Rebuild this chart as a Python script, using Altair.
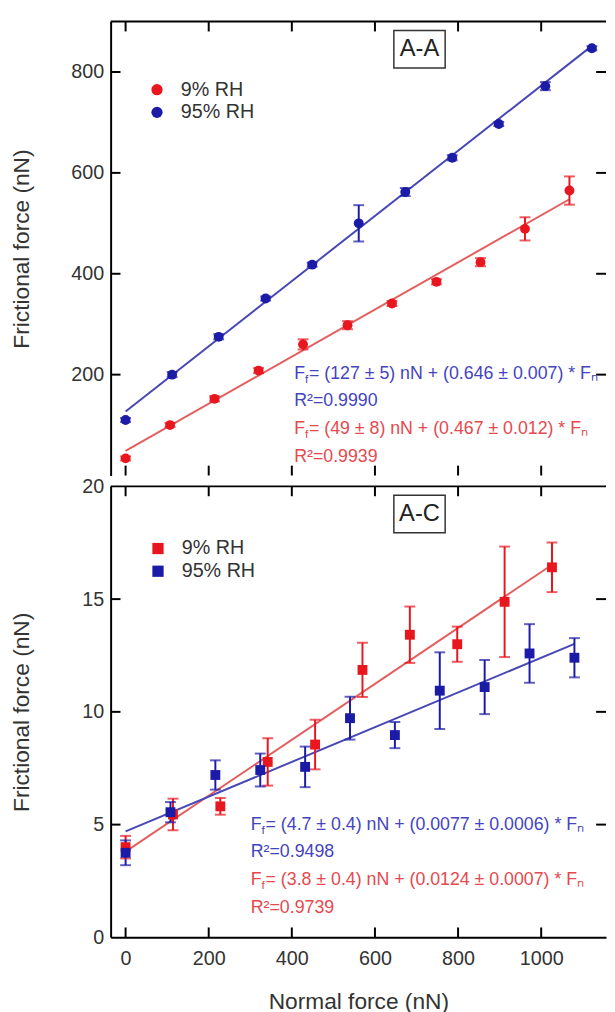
import altair as alt
import pandas as pd

SERIES = ["9% RH", "95% RH"]

# ---- Panel A-A (top) ----
aa_x_9 = [0, 107, 214, 320, 427, 534, 641, 748, 854, 961, 1068]
aa_y_9 = [34, 100, 152, 208, 260, 298, 341, 384, 423, 489, 565]
aa_e_9 = [4, 4, 5, 5, 10, 8, 5, 5, 8, 23, 28]
aa_x_95 = [0, 112, 224, 337, 449, 561, 673, 786, 898, 1010, 1122]
aa_y_95 = [110, 200, 275, 351, 418, 500, 562, 630, 697, 772, 847]
aa_e_95 = [4, 5, 5, 4, 4, 36, 8, 5, 4, 8, 4]
aa_fit_a = [49, 127]
aa_fit_b = [0.467, 0.646]
aa_eq = ["= (49 ± 8) nN + (0.467 ± 0.012) * Fₙ", "R²=0.9939",
         "= (127 ± 5) nN + (0.646 ± 0.007) * Fₙ", "R²=0.9990"]
aa_ylabels = [200, 400, 600, 800]

# ---- Panel A-C (bottom) ----
ac_x_9 = [0, 114, 228, 342, 456, 570, 684, 798, 912, 1026]
ac_y_9 = [4.0, 5.45, 5.81, 7.78, 8.55, 11.86, 13.42, 13.0, 14.88, 16.41]
ac_e_9 = [0.5, 0.7, 0.37, 1.05, 1.1, 1.2, 1.25, 0.78, 2.45, 1.1]
ac_x_95 = [0, 108, 216, 324, 432, 540, 648, 756, 864, 972, 1080]
ac_y_95 = [3.75, 5.55, 7.2, 7.42, 7.56, 9.72, 8.97, 10.94, 11.1, 12.59, 12.4]
ac_e_95 = [0.55, 0.45, 0.65, 0.73, 0.9, 0.95, 0.58, 1.7, 1.2, 1.3, 0.87]
ac_fit_a = [3.8, 4.7]
ac_fit_b = [0.0124, 0.0077]
ac_eq = ["= (3.8 ± 0.4) nN + (0.0124 ± 0.0007) * Fₙ", "R²=0.9739",
         "= (4.7 ± 0.4) nN + (0.0077 ± 0.0006) * Fₙ", "R²=0.9498"]
ac_ylabels = [0, 5, 10, 15, 20]

x_ticks = [0, 200, 400, 600, 800, 1000]

RED, BLUE = "#e8161e", "#1b1ba8"
RED_LINE, BLUE_LINE = "#e35e5e", "#4747b6"
RED_TXT, BLUE_TXT = "#e5494e", "#4444be"
FONT = "Liberation Sans"
W = 502
XDOM = [-36, 1156]


def points_df(xs9, ys9, es9, xs95, ys95, es95):
    rows = []
    for s, xs, ys, es, c in ((SERIES[0], xs9, ys9, es9, RED),
                             (SERIES[1], xs95, ys95, es95, BLUE)):
        for x, y, e in zip(xs, ys, es):
            rows.append(dict(series=s, x=x, y=y, lo=y - e, hi=y + e, col=c))
    return pd.DataFrame(rows)


def fit_df(xs9, xs95, a, b):
    rows = []
    for i, (s, xs, c) in enumerate(((SERIES[0], xs9, RED_LINE), (SERIES[1], xs95, BLUE_LINE))):
        for x in (xs[0], xs[-1]):
            rows.append(dict(series=s, x=x, y=a[i] + b[i] * x, col=c))
    return pd.DataFrame(rows)


ONE = pd.DataFrame({"k": [0]})


def txt(s, px, py, size, color, align="left", baseline="middle"):
    return alt.Chart(ONE).mark_text(text=s, fontSize=size, color=color, align=align,
                                    baseline=baseline, font=FONT).encode(
        x=alt.value(px), y=alt.value(py))


def panel(pts, fit, ydom, ylabels, yticks, H, shape, leg_xy, label, eqs, eq_xy, bottom):
    xs = alt.Scale(domain=XDOM, nice=False, zero=False)
    ys = alt.Scale(domain=ydom, nice=False, zero=False)
    if bottom:
        xaxis = alt.Axis(values=x_ticks, ticks=False, grid=False, domain=True,
                         domainColor="black", domainWidth=2, format="d",
                         labelPadding=12, labelFontSize=20, title="Normal force (nN)",
                         titleFontSize=23, titleY=72, titleBaseline="alphabetic")
    else:
        xaxis = None
    yaxis = alt.Axis(values=ylabels, ticks=False, grid=False, domain=True,
                     domainColor="black", domainWidth=2, labelPadding=7,
                     labelFontSize=20, title="Frictional force (nN)", titleFontSize=23,
                     titleX=-90, titleY=H / 2, titleAngle=270, titleBaseline="middle",
                     titleAlign="center")
    X = lambda f: alt.X(f, scale=xs, axis=xaxis)
    Y = lambda f: alt.Y(f, scale=ys, axis=yaxis)

    xt = pd.DataFrame({"x": x_ticks})
    yt = pd.DataFrame({"y": yticks})
    layers = [
        alt.Chart(ONE).mark_rule(color="black", strokeWidth=2).encode(
            x=alt.value(0), x2=alt.value(W), y=alt.value(0)),
        alt.Chart(xt).mark_rule(color="black", strokeWidth=2).encode(
            x=X("x:Q"), y=alt.value(0), y2=alt.value(10)),
        alt.Chart(xt).mark_rule(color="black", strokeWidth=2).encode(
            x=X("x:Q"), y=alt.value(H), y2=alt.value(H - 10)),
        alt.Chart(yt).mark_rule(color="black", strokeWidth=2).encode(
            y=Y("y:Q"), x=alt.value(0), x2=alt.value(10)),
        alt.Chart(yt).mark_rule(color="black", strokeWidth=2).encode(
            y=Y("y:Q"), x=alt.value(W - 10), x2=alt.value(W)),
        alt.Chart(fit).mark_line(strokeWidth=2).encode(
            x=X("x:Q"), y=Y("y:Q"), color=alt.Color("col:N", scale=None), detail="series:N"),
        alt.Chart(pts).mark_rule(strokeWidth=2).encode(
            x=X("x:Q"), y=Y("lo:Q"), y2="hi:Q", color=alt.Color("col:N", scale=None)),
        alt.Chart(pts).mark_tick(orient="horizontal", size=11, thickness=2).encode(
            x=X("x:Q"), y=Y("lo:Q"), color=alt.Color("col:N", scale=None)),
        alt.Chart(pts).mark_tick(orient="horizontal", size=11, thickness=2).encode(
            x=X("x:Q"), y=Y("hi:Q"), color=alt.Color("col:N", scale=None)),
        alt.Chart(pts).mark_point(filled=True, shape=shape, size=100, opacity=1,
                                  fillOpacity=1).encode(
            x=X("x:Q"), y=Y("y:Q"),
            color=alt.Color("series:N",
                            scale=alt.Scale(domain=SERIES, range=[RED, BLUE]),
                            legend=alt.Legend(orient="none", legendX=leg_xy[0],
                                              legendY=leg_xy[1], title=None,
                                              symbolType=shape, symbolSize=130,
                                              symbolOpacity=1,
                                              labelFontSize=20, labelFont=FONT,
                                              labelColor="#333333", labelOffset=14,
                                              rowPadding=3, padding=0,
                                              symbolStrokeWidth=0))),
        # panel label box
        alt.Chart(ONE).mark_rect(fill="white", stroke="#333333", strokeWidth=1.5).encode(
            x=alt.value(287), x2=alt.value(339), y=alt.value(9), y2=alt.value(47)),
        txt(label, 313, 28, 24, "#222222", align="center"),
    ]
    ex, ey = eq_xy
    lines = [(eqs[2], BLUE_TXT, True), (eqs[3], BLUE_TXT, False),
             (eqs[0], RED_TXT, True), (eqs[1], RED_TXT, False)]
    for i, (s, c, is_eq) in enumerate(lines):
        yy = ey + i * 28
        if is_eq:
            layers.append(txt("F", ex, yy, 18, c))
            layers.append(txt("f", ex + 11, yy + 5, 12, c))
            layers.append(txt(s, ex + 15, yy, 18, c))
        else:
            layers.append(txt(s, ex, yy, 18, c))
    return alt.layer(*layers).properties(width=W, height=H)


top = panel(points_df(aa_x_9, aa_y_9, aa_e_9, aa_x_95, aa_y_95, aa_e_95),
            fit_df(aa_x_9, aa_x_95, aa_fit_a, aa_fit_b),
            [0, 900], aa_ylabels, [200, 400, 600, 800], 460, "circle",
            (37, 59), "A-A", aa_eq, (186, 357), False)
bot = panel(points_df(ac_x_9, ac_y_9, ac_e_9, ac_x_95, ac_y_95, ac_e_95),
            fit_df(ac_x_9, ac_x_95, ac_fit_a, ac_fit_b),
            [0, 20], ac_ylabels, [5, 10, 15], 457, "square",
            (38, 53), "A-C", ac_eq, (142, 343), True)

chart = alt.vconcat(top, bot, spacing=0).resolve_scale(color="independent").properties(
    padding={"left": 3, "top": 6, "right": 0, "bottom": 0}
).configure_view(stroke=None).configure_axis(
    labelFont=FONT, titleFont=FONT, labelColor="#333333", titleColor="#333333",
    titleFontWeight="normal").configure_legend(symbolOpacity=1)

chart.save("out.html", embed_options={"renderer": "svg", "actions": False})
